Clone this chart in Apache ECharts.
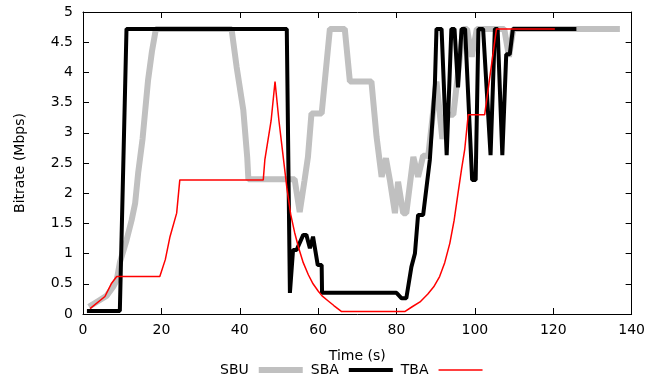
<!DOCTYPE html>
<html>
<head>
<meta charset="utf-8">
<script src="https://cdn.jsdelivr.net/npm/echarts@6/dist/echarts.min.js"></script>
<style>
  html, body { margin: 0; padding: 0; background: #fff; }
  #chart { width: 648px; height: 383px; }
</style>
</head>
<body>
<div id="chart"></div>
<script>
// Bitrate over time for three adaptation schemes

const seriesNames = ['SBU', 'SBA', 'TBA'];
const xTicks = [0, 20, 40, 60, 80, 100, 120, 140];
const yTicks = [0, 0.5, 1, 1.5, 2, 2.5, 3, 3.5, 4, 4.5, 5];

const sbuTime = [1.5, 4, 6, 7.7, 8.6, 9.4, 11.1, 12.4, 13.3, 14.1, 15.2, 16.6, 17.6, 18.6, 37.9, 39.2, 40.9, 41.9, 42.2,
  54, 55.3, 56.5, 57.4, 58.3, 60.9, 63, 66.8, 68.1, 73.6, 74.9, 76.2, 77.3, 78.3, 79.6, 80.4, 81.7, 82.5, 84.3, 85.5,
  86.8, 88.1, 90.2, 91.7, 93, 94.5, 97, 98, 99.2, 100.5, 107.5, 108.7, 109.8, 137];
const sbuRate = [0.12, 0.22, 0.3, 0.45, 0.56, 0.85, 1.22, 1.55, 1.83, 2.35, 2.9, 3.87, 4.35, 4.72, 4.72, 4.09, 3.38, 2.6, 2.23,
  2.23, 1.69, 2.2, 2.6, 3.32, 3.32, 4.72, 4.72, 3.85, 3.85, 2.94, 2.27, 2.58, 2.22, 1.67, 2.19, 1.67, 1.67, 2.6, 2.27,
  2.62, 2.62, 3.85, 2.9, 3.3, 3.3, 4.72, 4.72, 4.26, 4.72, 4.72, 4.26, 4.72, 4.72];

const sbaTime = [1, 9.4, 11.1, 52, 52.8, 53.6, 54.5, 56.2, 57, 57.9, 58.7, 59.9, 60.9, 61, 80, 81.3, 82.5, 83.8, 84.7,
  85.5, 86.8, 88.5, 89.8, 90.2, 91.5, 92.8, 94, 94.8, 95.7, 96.6, 97.5, 99.3, 100.2, 100.9, 102.1, 104, 105.1, 105.8,
  107, 108, 108.9, 109.7, 125.9];
const sbaRate = [0.05, 0.05, 4.72, 4.72, 0.35, 1.06, 1.06, 1.31, 1.31, 1.09, 1.28, 0.81, 0.81, 0.35, 0.35, 0.26, 0.26, 0.78, 1.0,
  1.64, 1.64, 2.55, 3.82, 4.72, 4.72, 2.63, 4.72, 4.72, 3.75, 4.72, 4.72, 2.22, 2.22, 4.72, 4.72, 2.63, 4.72, 4.72,
  2.63, 4.3, 4.3, 4.72, 4.72];

const tbaTime = [1.8, 5.6, 7.3, 8.6, 19.6, 21, 22.2, 23.9, 24.7, 46, 46.4, 48, 49, 50, 51, 52, 53, 54, 55, 56.2, 57.5,
  58.7, 60, 61, 62.5, 64, 66, 82.1, 84, 86, 88, 89.5, 91, 92.3, 93.6, 94.7, 95.7, 96.6, 97.4, 98.3, 102.5, 105.5, 120.4];
const tbaRate = [0.09, 0.29, 0.51, 0.62, 0.62, 0.9, 1.28, 1.67, 2.22, 2.22, 2.55, 3.2, 3.85, 3.2, 2.65, 2.1, 1.65, 1.35, 1.1, 0.85, 0.65,
  0.5, 0.38, 0.3, 0.22, 0.14, 0.04, 0.04, 0.12, 0.2, 0.33, 0.45, 0.62, 0.85, 1.17, 1.55, 2.0, 2.4, 2.72, 3.3, 3.3, 4.72, 4.72];

const zip = (xs, ys) => xs.map((x, i) => [x, ys[i]]);

const font = 'DejaVu Sans';
const colors = ['#c0c0c0', '#000000', '#ff0000'];
const widths = [6, 4, 1.5];

const chart = echarts.init(document.getElementById('chart'));

const axisCommon = {
    type: 'value',
    splitLine: { show: false },
    axisLine: { show: true, onZero: false, lineStyle: { color: '#000', width: 1 } },
    axisTick: { show: true, inside: true, length: 6, lineStyle: { color: '#000' } },
};

const option = {
    animation: false,
    grid: { left: 83, right: 16, top: 12, bottom: 69 },
    legend: {
        left: 215,
        top: 358,
        align: 'right',
        itemWidth: 44,
        itemHeight: 6,
        itemGap: 8,
        textStyle: { fontFamily: font, fontSize: 14, color: '#000', padding: [0, 5, 0, 0] },
        data: seriesNames.map((n, i) => ({
            name: n,
            icon: 'path://M0 0H44V' + widths[i] + 'H0Z',
            itemStyle: { color: colors[i], borderWidth: 0 }
        }))
    },
    xAxis: [
        Object.assign({}, axisCommon, {
            min: xTicks[0], max: xTicks[xTicks.length - 1], interval: 20,
            position: 'bottom',
            name: 'Time (s)', nameLocation: 'middle', nameGap: 35,
            nameTextStyle: { fontFamily: font, fontSize: 14, color: '#000' },
            axisLabel: { fontFamily: font, fontSize: 14, color: '#000', margin: 9 }
        }),
        Object.assign({}, axisCommon, {
            min: xTicks[0], max: xTicks[xTicks.length - 1], interval: 20,
            position: 'top',
            axisLabel: { show: false }
        })
    ],
    yAxis: [
        Object.assign({}, axisCommon, {
            min: yTicks[0], max: yTicks[yTicks.length - 1], interval: 0.5,
            position: 'left',
            name: 'Bitrate (Mbps)', nameLocation: 'middle', nameGap: 56,
            nameTextStyle: { fontFamily: font, fontSize: 14, color: '#000' },
            axisLabel: { fontFamily: font, fontSize: 14, color: '#000', margin: 10 }
        }),
        Object.assign({}, axisCommon, {
            min: yTicks[0], max: yTicks[yTicks.length - 1], interval: 0.5,
            position: 'right',
            axisLabel: { show: false }
        })
    ],
    series: [
        { name: 'SBU', data: zip(sbuTime, sbuRate) },
        { name: 'SBA', data: zip(sbaTime, sbaRate) },
        { name: 'TBA', data: zip(tbaTime, tbaRate) }
    ].map((s, i) => ({
        name: s.name,
        type: 'line',
        data: s.data,
        showSymbol: false,
        symbol: 'none',
        color: colors[i],
        lineStyle: { color: colors[i], width: widths[i] },
        z: 2 + i
    }))
};

chart.setOption(option);
</script>
</body>
</html>
